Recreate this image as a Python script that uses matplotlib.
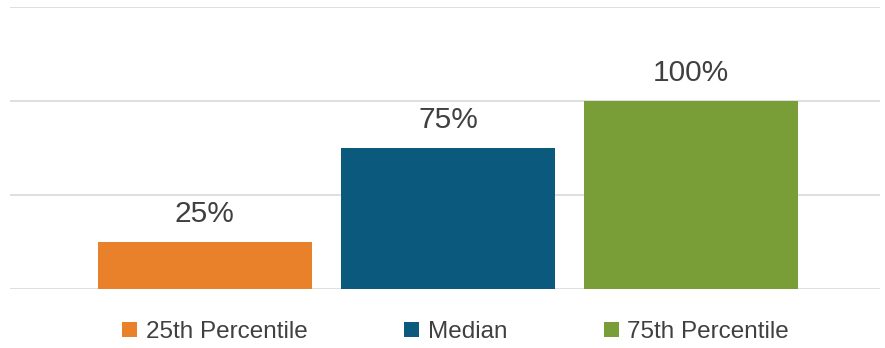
import numpy as np
from matplotlib import pyplot as plt
from matplotlib.patches import Patch

# data
categories = ['25th Percentile', 'Median', '75th Percentile']
values = [25, 75, 100]
labels = ['25%', '75%', '100%']
colors = ['#E8812A', '#0B5A7D', '#7A9E37']

plt.rcParams['font.family'] = ['Liberation Sans', 'DejaVu Sans']
text_color = '#404040'

fig = plt.figure(figsize=(8.85, 3.48), dpi=100)
ax = fig.add_axes([0.0113, 0.1695, 0.9831, 0.8104])

x = np.arange(len(categories))
bars = ax.bar(x, values, width=0.88, color=colors, zorder=3)

for rect, lab in zip(bars, labels):
    ax.annotate(lab, (rect.get_x() + rect.get_width() / 2, rect.get_height()),
                xytext=(0, 10), textcoords='offset points', ha='center', va='bottom',
                fontsize=21.5, color=text_color)

ax.set_xlim(-0.802, 2.778)
ax.set_ylim(0, 150)
ax.set_yticks([0, 50, 100, 150])
ax.yaxis.grid(True, color='#D9D9D9', linewidth=1.2, zorder=0)
ax.set_xticks([])
ax.tick_params(left=False, labelleft=False)
for s in ax.spines.values():
    s.set_visible(False)

handles = [Patch(facecolor=c, edgecolor='none') for c in colors]
fig.legend(handles, categories, loc='center', bbox_to_anchor=(0.515, 0.046), ncol=3,
           frameon=False, fontsize=17.5, labelcolor=text_color,
           handlelength=0.6, handleheight=0.6, handletextpad=0.35, columnspacing=4.0)

plt.savefig('out.png', dpi=100)
